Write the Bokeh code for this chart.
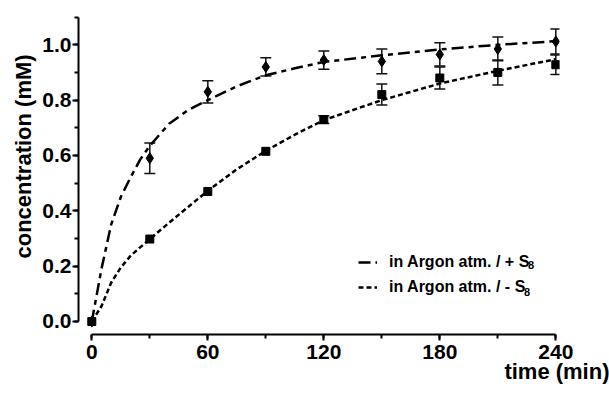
from bokeh.plotting import figure
from bokeh.models import (ColumnDataSource, Whisker, TeeHead, Legend, LegendItem, Title,
                          SingleIntervalTicker, NumeralTickFormatter, Range1d)
from bokeh.core.properties import value
from bokeh.embed import file_html
from bokeh.resources import INLINE

# measured data
time = [0, 30, 60, 90, 120, 150, 180, 210, 240]
plus_s8 = [0.0, 0.59, 0.83, 0.92, 0.945, 0.94, 0.965, 0.985, 1.012]
plus_err = [0.0, 0.055, 0.04, 0.033, 0.033, 0.045, 0.042, 0.043, 0.045]
minus_s8 = [0.0, 0.298, 0.47, 0.615, 0.73, 0.82, 0.88, 0.90, 0.928]
minus_err = [0.0, 0.0, 0.0, 0.0, 0.014, 0.038, 0.04, 0.045, 0.035]

# fitted curves
fit_t = [0, 5, 10, 15, 20, 25, 30, 40, 50, 60, 75, 90, 105, 120, 150, 180, 210, 240]
fit_plus = [0.0, 0.19, 0.35, 0.45, 0.52, 0.585, 0.635, 0.715, 0.765, 0.80, 0.85, 0.89,
            0.915, 0.938, 0.962, 0.983, 1.0, 1.013]
fit_minus = [0.0, 0.055, 0.14, 0.195, 0.237, 0.268, 0.298, 0.357, 0.415, 0.472, 0.55,
             0.617, 0.675, 0.728, 0.80, 0.86, 0.906, 0.948]

x_ticks_interval = 60
y_ticks_interval = 0.2
label_plus = "in Argon atm. / + S"
label_minus = "in Argon atm. / - S"
subscript = "8"
x_title = "time (min)"
y_title = "concentration (mM)"

FONT = "Liberation Sans"

p = figure(width=609, height=398, output_backend="svg", toolbar_location=None,
           x_range=Range1d(-6.88, 241.9), y_range=Range1d(-0.047, 1.1095),
           min_border_left=78, min_border_right=50, min_border_top=14, min_border_bottom=64)
p.outline_line_color = None
p.xgrid.visible = False
p.ygrid.visible = False
p.background_fill_color = "white"

# axes
for ax in (p.xaxis[0], p.yaxis[0]):
    ax.axis_line_width = 2
    ax.major_tick_line_width = 2
    ax.minor_tick_line_width = 2
    ax.major_tick_in = 0
    ax.minor_tick_in = 0
    ax.major_tick_out = 6
    ax.minor_tick_out = 4
    ax.major_label_text_font = FONT
    ax.major_label_text_font_style = "bold"
    ax.major_label_text_font_size = "21px"
    ax.major_label_text_color = "black"
    ax.axis_line_color = "black"

p.xaxis.ticker = SingleIntervalTicker(interval=x_ticks_interval, num_minor_ticks=2)
p.yaxis.ticker = SingleIntervalTicker(interval=y_ticks_interval, num_minor_ticks=2)
p.xaxis.bounds = (0, 240)
p.yaxis.bounds = (0, 1.1)
p.yaxis.formatter = NumeralTickFormatter(format="0.0")
p.xaxis.major_label_standoff = 4
p.yaxis.major_label_standoff = 1

# fit curves
r_plus = p.line(fit_t, fit_plus, line_color="black", line_width=2.5, line_dash="12 5 5 5")
r_minus = p.line(fit_t, fit_minus, line_color="black", line_width=2.5, line_dash="5 3")

# error bars
def err_source(vals, errs):
    t = [ti for ti, e in zip(time, errs) if e > 0]
    up = [v + e for v, e in zip(vals, errs) if e > 0]
    lo = [v - e for v, e in zip(vals, errs) if e > 0]
    return ColumnDataSource(dict(t=t, up=up, lo=lo))

for vals, errs in ((plus_s8, plus_err), (minus_s8, minus_err)):
    w = Whisker(base="t", upper="up", lower="lo", source=err_source(vals, errs),
                line_color="#111111", line_width=1.5,
                upper_head=TeeHead(size=11, line_width=1.5, line_color="#111111"),
                lower_head=TeeHead(size=11, line_width=1.5, line_color="#111111"))
    p.add_layout(w)

# markers
p.scatter(time, minus_s8, marker="square", size=8, color="black")
p.scatter(time, plus_s8, marker="diamond", size=11, color="black")

# legend
legend = Legend(items=[LegendItem(label=label_plus, renderers=[r_plus]),
                       LegendItem(label=label_minus, renderers=[r_minus])],
                location=(280, 36), glyph_width=19, glyph_height=22, label_height=22,
                spacing=3, padding=0, margin=0, label_standoff=12,
                border_line_color=None, background_fill_alpha=0,
                label_text_font=FONT, label_text_font_style="bold",
                label_text_font_size="16px", label_text_color="black")
p.add_layout(legend, "center")
# subscript 8 after the "S" of each legend label
p.text(x=[225.6, 223.6], y=[0.2024, 0.106], text=[subscript, subscript],
       text_font=value(FONT), text_font_style="bold", text_font_size="11px",
       text_align="left", text_baseline="middle", text_color="black")

# axis titles
p.add_layout(Title(text=x_title, align="right", offset=-50, standoff=-10,
                   text_font=FONT, text_font_style="bold", text_font_size="22px",
                   text_color="black"), "below")
p.add_layout(Title(text=y_title, align="left", offset=76, standoff=8,
                   text_font=FONT, text_font_style="bold", text_font_size="22px",
                   text_color="black"), "left")

open("out.html", "w").write(file_html(p, INLINE))
